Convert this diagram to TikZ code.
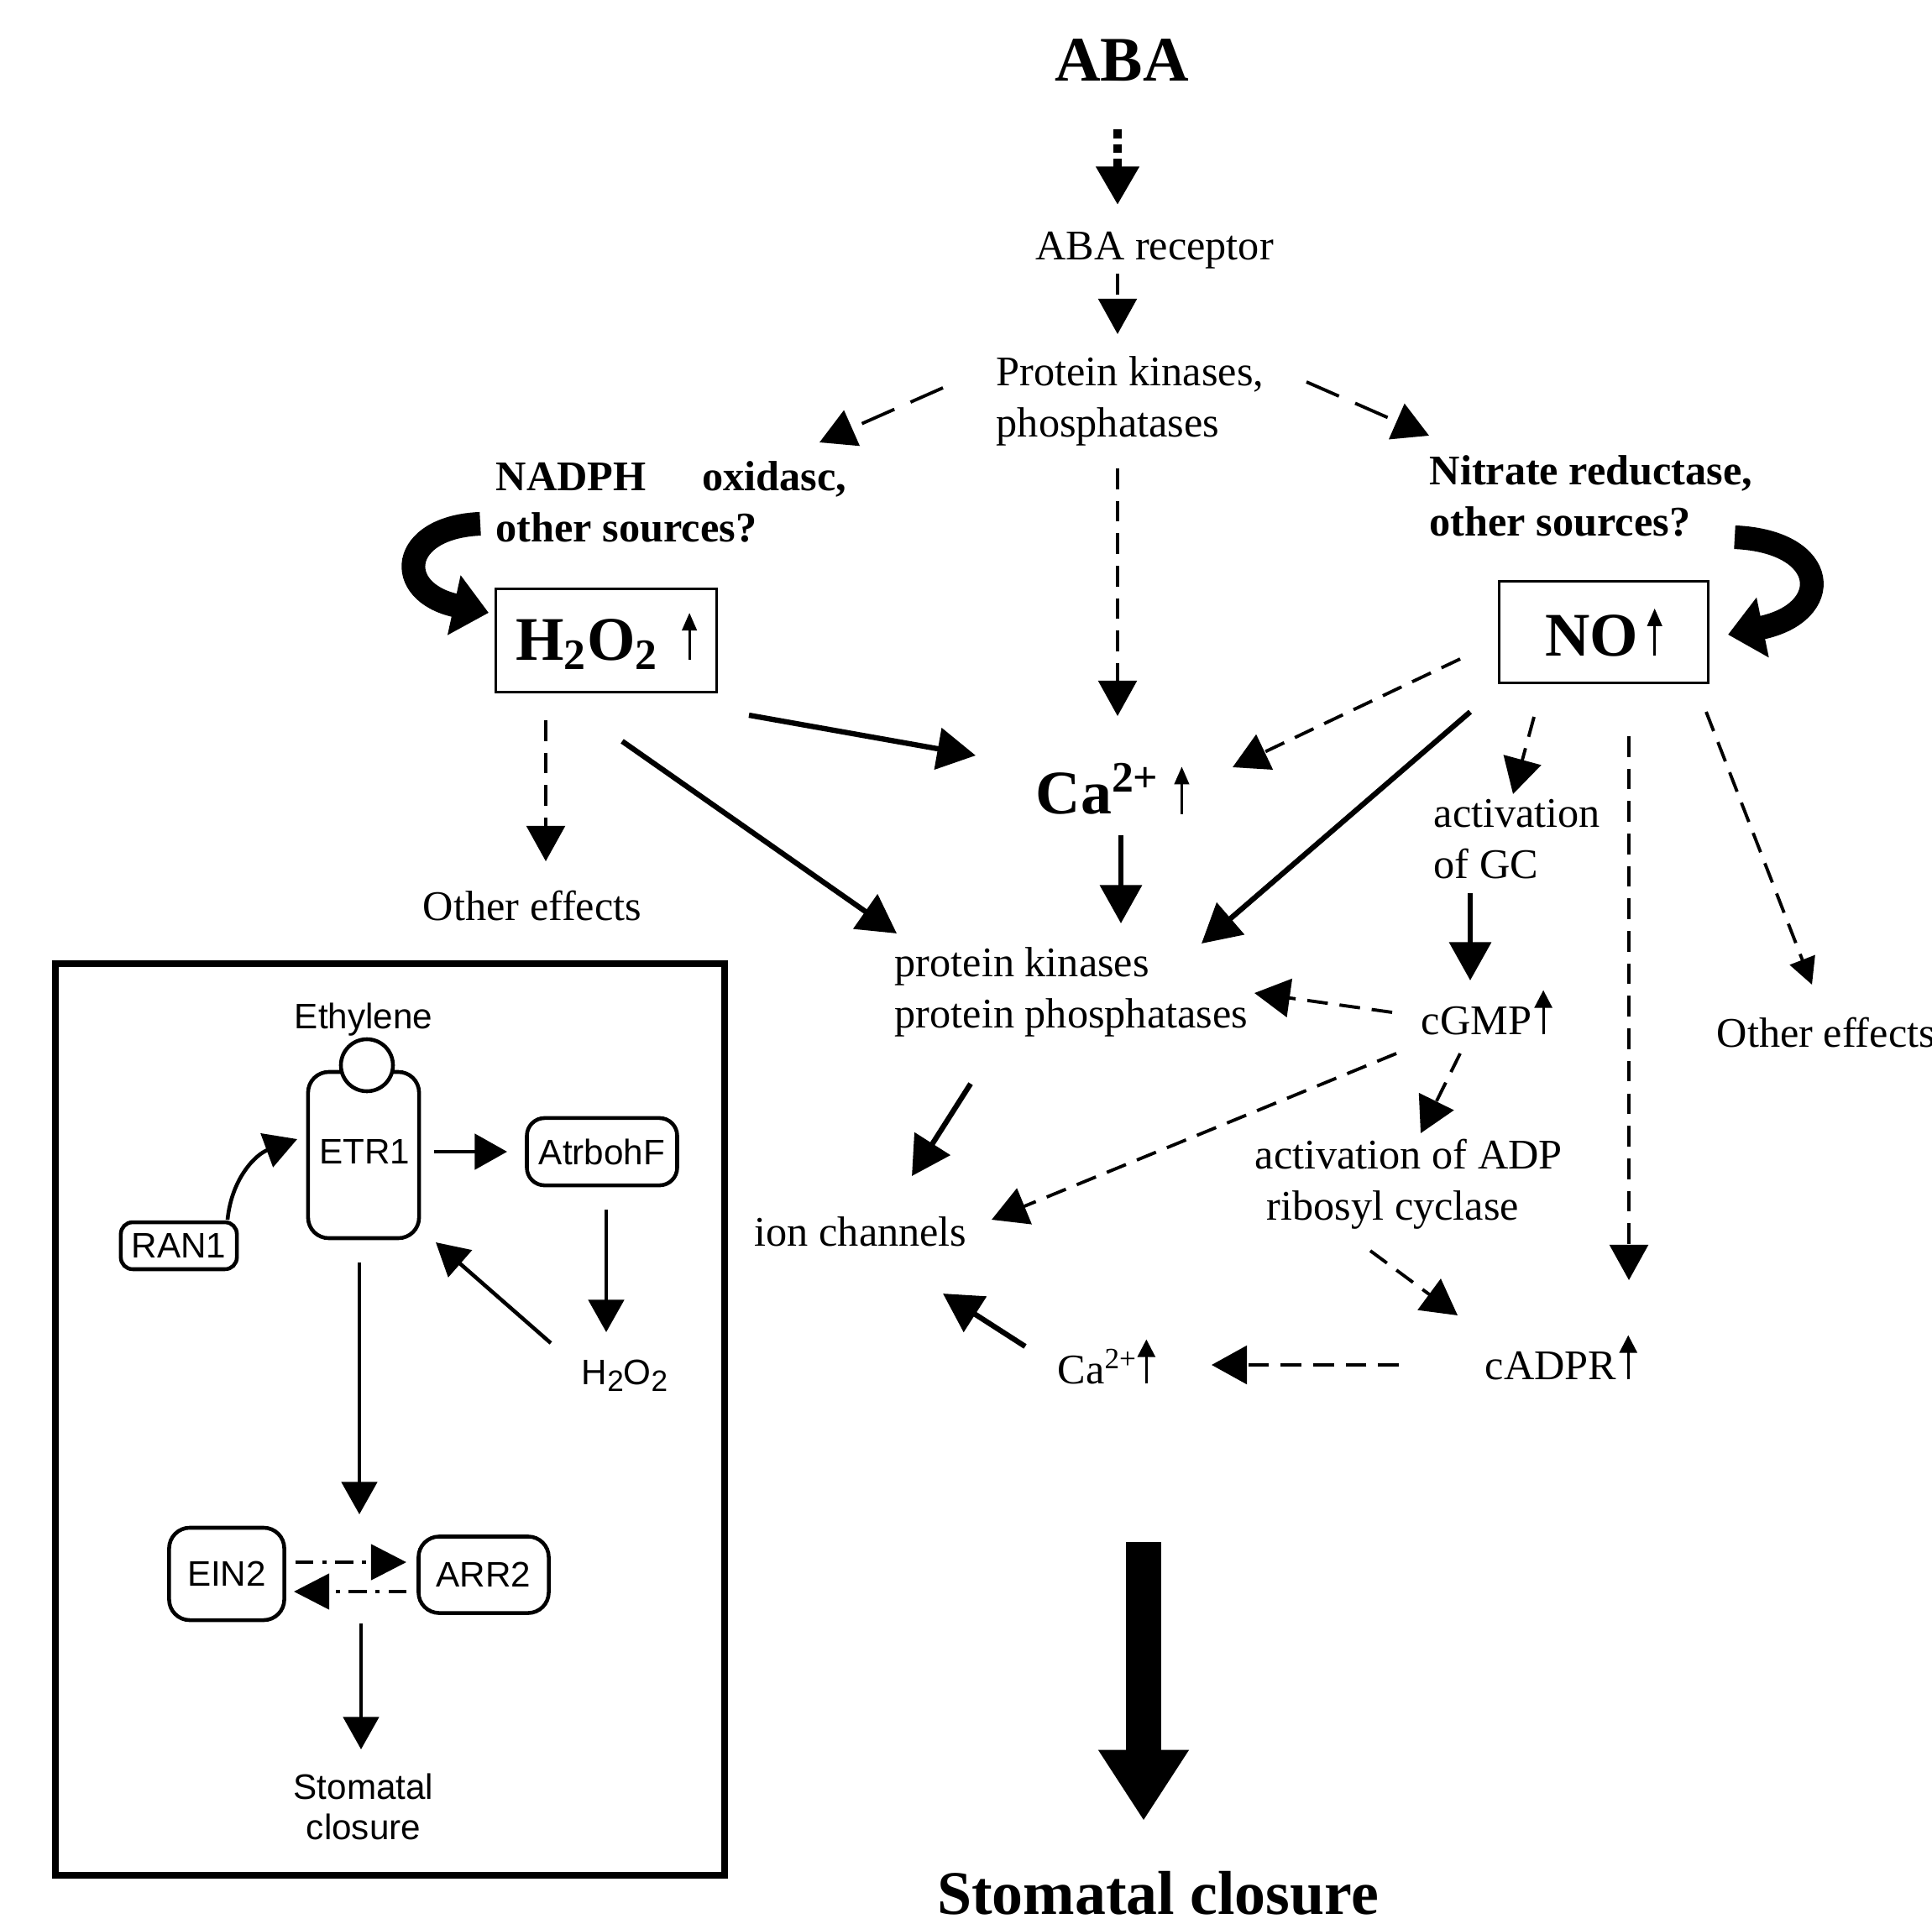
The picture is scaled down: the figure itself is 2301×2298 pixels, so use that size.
\documentclass[tikz,border=0pt]{standalone}
\usepackage{fontspec}
\setmainfont{Liberation Serif}
\setsansfont{Liberation Sans}
\usetikzlibrary{arrows.meta}
\newcommand\uparw[3]{\tikz[baseline=0pt]\draw[line width=0.8pt,-{Triangle[length=#2,width=#3]}](0pt,0pt)--(0pt,#1);}
\begin{document}
\begin{tikzpicture}[x=0.01cm,y=-0.01cm,
  lbl/.style={inner sep=0pt, font=\fontsize{14.3}{17.3}\selectfont, align=left},
  blbl/.style={inner sep=0pt, font=\bfseries\fontsize{14.3}{17.3}\selectfont, align=left},
  big/.style={inner sep=0pt, font=\bfseries\fontsize{21}{25}\selectfont},
  bx/.style={draw, line width=0.9pt},
  sol/.style={line width=1.8pt, -{Triangle[length=13pt,width=14pt]}},
  dsh/.style={line width=1.1pt, dash pattern=on 7pt off 4pt, -{Triangle[length=12pt,width=13pt]}},
  dott/.style={line width=3pt, dash pattern=on 3pt off 2pt, -{Triangle[length=13pt,width=14pt]}},
  curv/.style={line width=8pt, -{Triangle[length=12pt,width=20pt]}},
  ibox/.style={draw, line width=1.3pt, inner sep=0pt, font=\sffamily\fontsize{12}{14}\selectfont},
  isol/.style={line width=1.3pt, -{Triangle[length=11pt,width=12pt]}},
  idd/.style={line width=1.3pt, dash pattern=on 6pt off 3pt on 1.5pt off 3pt, -{Triangle[length=12pt,width=12pt]}},
  itxt/.style={inner sep=0pt, font=\sffamily\fontsize{12}{13.7}\selectfont, align=center}]
\useasboundingbox (0,0) rectangle (2301,2298);

% ---------- main nodes ----------
\node[inner sep=0pt, font=\bfseries\fontsize{21.5}{25}\selectfont] (aba) at (1336,72) {ABA};
\node[lbl] (rec) at (1375,298) {ABA receptor};
\node[lbl, anchor=west] (pk) at (1186,478) {Protein kinases,\\phosphatases};
\node[blbl, anchor=west] (nadph) at (590,598) {NADPH\hspace{19pt}oxidasc,\\other sources?};
\node[blbl, anchor=west] (nr) at (1702,591) {Nitrate reductase,\\other sources?};
\node[bx, big, minimum width=75pt, minimum height=35pt] (h2o2) at (722,763) {H\textsubscript{2}O\textsubscript{2}\hspace{8pt}\uparw{16pt}{6pt}{5pt}};
\node[bx, big, minimum width=71pt, minimum height=34.4pt] (no) at (1910,753) {NO\hspace{3pt}\uparw{16pt}{6pt}{5pt}};
\node[big] (ca) at (1325,940) {Ca\textsuperscript{2+}\hspace{5pt}\uparw{16pt}{6pt}{5pt}};
\node[lbl] (oe1) at (634,1079) {Other effects};
\node[lbl, anchor=west] (pk2) at (1065,1182) {protein kinases\\protein phosphatases};
\node[lbl, anchor=west] (gc) at (1707,1000) {activation\\of GC};
\node[lbl, anchor=west] (cgmp) at (1692,1206) {cGMP\hspace{1pt}\uparw{15pt}{6pt}{6pt}};
\node[lbl, anchor=west] (oe2) at (2044,1230) {Other effects};
\node[lbl, anchor=west] (adp) at (1494,1411) {activation of ADP\\\hspace*{4pt}ribosyl cyclase};
\node[lbl, anchor=west] (ion) at (898,1467) {ion channels};
\node[lbl, anchor=west] (cadpr) at (1768,1617) {cADPR\hspace{1pt}\uparw{15pt}{6pt}{6pt}};
\node[lbl, anchor=west] (ca2) at (1259,1622) {Ca\textsuperscript{2+}\uparw{15pt}{6pt}{6pt}};
\node[inner sep=0pt, font=\bfseries\fontsize{21}{25}\selectfont] (sc) at (1379,2255) {Stomatal closure};

% ---------- main connectors ----------
\coordinate (c1a) at (1331,154); \coordinate (c1b) at (1331,244);
\draw[dott] (c1a) -- (c1b);
\coordinate (c2a) at (1331,326); \coordinate (c2b) at (1331,398);
\draw[dsh] (c2a) -- (c2b);
\coordinate (c3a) at (1123,462); \coordinate (c3b) at (976,527);
\draw[dsh, dash pattern=on 12pt off 6pt] (c3a) -- (c3b);
\coordinate (c4a) at (1556,455); \coordinate (c4b) at (1702,519);
\draw[dsh, dash pattern=on 12pt off 6pt] (c4a) -- (c4b);
\coordinate (c5a) at (1331,558); \coordinate (c5b) at (1331,853);
\draw[dsh] (c5a) -- (c5b);
\coordinate (c6a) at (892,852); \coordinate (c6b) at (1162,900);
\draw[sol] (c6a) -- (c6b);
\coordinate (c7a) at (1739,785); \coordinate (c7b) at (1468,914);
\draw[dsh] (c7a) -- (c7b);
\coordinate (c8a) at (741,883); \coordinate (c8b) at (1068,1112);
\draw[sol] (c8a) -- (c8b);
\coordinate (c9a) at (1335,995); \coordinate (c9b) at (1335,1100);
\draw[sol] (c9a) -- (c9b);
\coordinate (c10a) at (1751,848); \coordinate (c10b) at (1431,1124);
\draw[sol] (c10a) -- (c10b);
\coordinate (c11a) at (650,858); \coordinate (c11b) at (650,1026);
\draw[dsh] (c11a) -- (c11b);
\coordinate (c12a) at (1827,854); \coordinate (c12b) at (1802,946);
\draw[dsh] (c12a) -- (c12b);
\coordinate (c13a) at (1940,877); \coordinate (c13b) at (1940,1525);
\draw[dsh] (c13a) -- (c13b);
\coordinate (c14a) at (2032,848); \coordinate (c14b) at (2158,1173);
\draw[dsh, -{Triangle[length=9pt,width=9pt]}] (c14a) -- (c14b);
\coordinate (c15a) at (1751,1064); \coordinate (c15b) at (1751,1168);
\draw[sol] (c15a) -- (c15b);
\coordinate (c16a) at (1658,1206); \coordinate (c16b) at (1494,1183);
\draw[dsh] (c16a) -- (c16b);
\coordinate (c17a) at (1156,1291); \coordinate (c17b) at (1086,1401);
\draw[sol] (c17a) -- (c17b);
\coordinate (c18a) at (1663,1255); \coordinate (c18b) at (1181,1453);
\draw[dsh] (c18a) -- (c18b);
\coordinate (c19a) at (1739,1255); \coordinate (c19b) at (1692,1350);
\draw[dsh] (c19a) -- (c19b);
\coordinate (c20a) at (1632,1490); \coordinate (c20b) at (1736,1567);
\draw[dsh] (c20a) -- (c20b);
\coordinate (c21a) at (1666,1626); \coordinate (c21b) at (1443,1626);
\draw[dsh] (c21a) -- (c21b);
\coordinate (c22a) at (1221,1604); \coordinate (c22b) at (1123,1541);
\draw[sol] (c22a) -- (c22b);
% thick curved arrows
\coordinate (lc0) at (572,624); \coordinate (lc1) at (582,730);
\draw[curv] (lc0) .. controls (475,628) and (468,705) .. (lc1);
\coordinate (rc0) at (2066,640); \coordinate (rc1) at (2058,756);
\draw[curv] (rc0) .. controls (2180,645) and (2185,730) .. (rc1);
% big arrow
\coordinate (bg0) at (1362,1837);
\draw[line width=11.7pt, -{Triangle[length=24pt,width=29pt]}] (bg0) -- (1362,2169);

% ---------- inset ----------
\draw[line width=2.2pt] (66,1148) rectangle (863,2234);
\node[itxt] (eth) at (433,1215) {Ethylene};
\node[ibox, rounded corners=7pt, minimum width=37.6pt, minimum height=56.3pt] (etr) at (433,1376) {};
\draw[line width=1.3pt, fill=white] (437,1269) circle (31);
\node[itxt] (etrt) at (434,1372) {ETR1};
\node[ibox, rounded corners=6pt, minimum width=50.9pt, minimum height=22.8pt] (atr) at (717,1372) {AtrbohF};
\node[ibox, rounded corners=4pt, minimum width=39.3pt, minimum height=15.9pt] (ran) at (213,1484) {RAN1};
\node[itxt] (ih) at (744,1639) {H{\fontsize{10}{12}\selectfont\raisebox{-0.45ex}{2}}O{\fontsize{10}{12}\selectfont\raisebox{-0.45ex}{2}}};
\node[ibox, rounded corners=7pt, minimum width=39pt, minimum height=31.3pt] (ein) at (270,1875) {EIN2};
\node[ibox, rounded corners=7pt, minimum width=44.1pt, minimum height=25.9pt] (arr) at (576,1876) {ARR2};
\node[itxt] (sc2) at (433,2152) {Stomatal\\closure};

\coordinate (i1a) at (271,1453); \coordinate (i1b) at (354,1357);
\draw[isol] (i1a) .. controls (276,1403) and (305,1375) .. (i1b);
\coordinate (i2a) at (517,1372); \coordinate (i2b) at (604,1372);
\draw[isol] (i2a) -- (i2b);
\coordinate (i3a) at (722,1441); \coordinate (i3b) at (722,1587);
\draw[isol] (i3a) -- (i3b);
\coordinate (i4a) at (656,1600); \coordinate (i4b) at (519,1480);
\draw[isol] (i4a) -- (i4b);
\coordinate (i5a) at (428,1504); \coordinate (i5b) at (428,1804);
\draw[isol] (i5a) -- (i5b);
\coordinate (i6a) at (352,1861); \coordinate (i6b) at (484,1861);
\draw[idd] (i6a) -- (i6b);
\coordinate (i7a) at (484,1896); \coordinate (i7b) at (350,1896);
\draw[idd] (i7a) -- (i7b);
\coordinate (i8a) at (430,1934); \coordinate (i8b) at (430,2084);
\draw[isol] (i8a) -- (i8b);
\end{tikzpicture}
\end{document}
